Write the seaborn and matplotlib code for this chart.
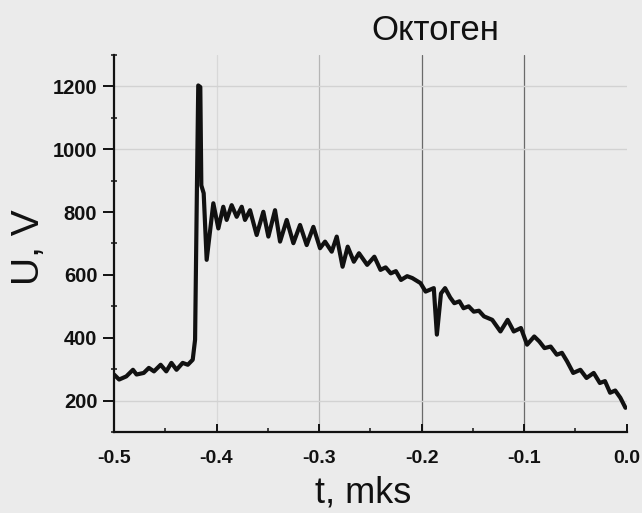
import matplotlib
matplotlib.use("Agg")
import matplotlib.pyplot as plt
from matplotlib.ticker import MultipleLocator
import seaborn as sns
import pandas as pd

# oscillogram: time (mks) and voltage (V)
t = [-0.5, -0.495, -0.488, -0.4815, -0.478, -0.471, -0.466, -0.461, -0.4545, -0.449,
     -0.444, -0.439, -0.433, -0.428, -0.4232, -0.4209, -0.419, -0.4178, -0.4158, -0.4148,
     -0.4125, -0.4096, -0.4031, -0.3982, -0.3934, -0.3901, -0.3852, -0.3803, -0.3754, -0.3722,
     -0.3673, -0.3608, -0.3543, -0.3494, -0.3429, -0.3380, -0.3315, -0.3250, -0.3185, -0.3120,
     -0.3055, -0.2990, -0.2941, -0.2876, -0.2827, -0.277, -0.272, -0.266, -0.261, -0.253,
     -0.246, -0.240, -0.235, -0.230, -0.225, -0.220, -0.214, -0.209, -0.201, -0.196,
     -0.188, -0.185, -0.181, -0.177, -0.172, -0.168, -0.163, -0.159, -0.154, -0.149,
     -0.144, -0.139, -0.131, -0.123, -0.116, -0.110, -0.103, -0.097, -0.090, -0.085,
     -0.080, -0.074, -0.068, -0.063, -0.058, -0.052, -0.045, -0.039, -0.032, -0.026,
     -0.021, -0.016, -0.011, -0.006, -0.001]
u = [283, 267, 277, 298, 283, 288, 304, 293, 314, 293,
     320, 298, 320, 314, 330, 394, 902, 1203, 1198, 885,
     860, 648, 828, 748, 817, 775, 822, 785, 817, 775,
     806, 727, 801, 722, 806, 706, 775, 701, 759, 695,
     753, 685, 706, 674, 722, 626, 690, 642, 669, 632,
     658, 616, 624, 605, 612, 584, 596, 590, 574, 547,
     558, 410, 541, 558, 528, 510, 516, 494, 500, 483,
     486, 468, 457, 420, 457, 420, 431, 378, 404, 388,
     367, 372, 346, 352, 325, 288, 298, 272, 288, 256,
     262, 225, 232, 209, 177]

title = "Октоген"
xlabel = "t, mks"
ylabel = "U, V"

df = pd.DataFrame({"t": t, "u": u})

sns.set_style("ticks")
plt.rcParams["font.family"] = ["Liberation Sans", "DejaVu Sans"]

bg = "#ebebeb"
fig = plt.figure(figsize=(6.42, 5.13), dpi=100, facecolor=bg)
ax = fig.add_axes([114 / 642, 1 - 432 / 513, (626.5 - 114) / 642, (432 - 55) / 513])
ax.set_facecolor(bg)

# faint paper lines visible in the scan
for xv, c in zip([-0.4, -0.3, -0.2, -0.1], ["#d8d8d8", "#b5b5b5", "#6a6a6a", "#6a6a6a"]):
    ax.axvline(xv, color=c, lw=0.9, zorder=0)
for yv in [1200, 1000, 200]:
    ax.axhline(yv, color="#d2d2d2", lw=1.0, zorder=0)

sns.lineplot(data=df, x="t", y="u", ax=ax, color="#111111", lw=3.0, zorder=3)

ax.set_xlim(-0.5, 0.0)
ax.set_ylim(100, 1300)
ax.xaxis.set_major_locator(MultipleLocator(0.1))
ax.xaxis.set_minor_locator(MultipleLocator(0.05))
ax.yaxis.set_major_locator(MultipleLocator(200))
ax.yaxis.set_minor_locator(MultipleLocator(100))
ax.set_xticks([-0.5, -0.4, -0.3, -0.2, -0.1, 0.0])
ax.set_xticklabels(["-0.5", "-0.4", "-0.3", "-0.2", "-0.1", "0.0"])

sns.despine(ax=ax)
for s in ["left", "bottom"]:
    ax.spines[s].set_linewidth(1.6)
    ax.spines[s].set_color("#111111")

ax.tick_params(axis="x", which="major", direction="in", length=6, width=1.4, pad=13,
               labelsize=14, colors="#111111")
ax.tick_params(axis="x", which="minor", direction="in", length=3, width=1.2)
ax.tick_params(axis="y", which="major", direction="out", length=8, width=1.4, pad=4,
               labelsize=14.5, colors="#111111")
ax.tick_params(axis="y", which="minor", direction="inout", length=5, width=1.2)
for lab in ax.get_xticklabels() + ax.get_yticklabels():
    lab.set_fontweight("bold")

ax.set_xlabel(xlabel, fontsize=26, color="#111111")
ax.set_ylabel(ylabel, fontsize=28, color="#111111")
ax.xaxis.set_label_coords(0.487, -0.115)
ax.yaxis.set_label_coords(-0.131, 0.49)

fig.text(435 / 642, 1 - 30 / 513, title, fontsize=25, ha="center", va="center",
         color="#111111")

fig.savefig("out.png", dpi=100, facecolor=bg)
